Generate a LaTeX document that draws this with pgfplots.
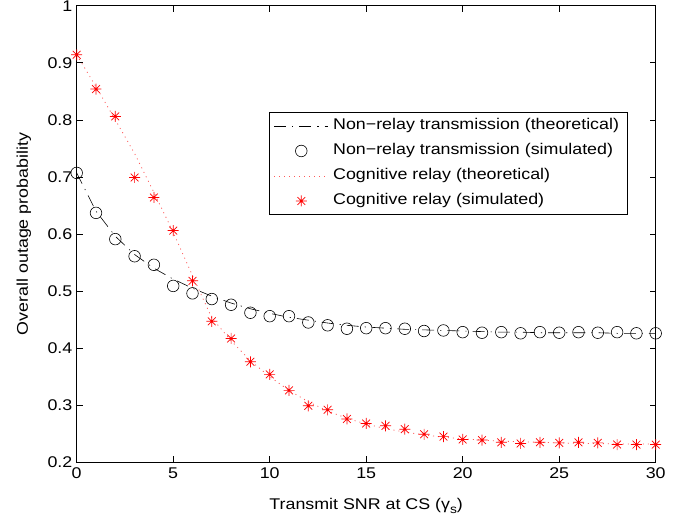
\documentclass[border=0pt]{standalone}
\usepackage{pgfplots}
\pgfplotsset{compat=1.18}
\usepackage{fontspec}
\setmainfont{Liberation Sans}[FakeStretch=1.15]
\usetikzlibrary{calc,plotmarks}
\pgfdeclareplotmark{mstar}{%
  \pgfpathmoveto{\pgfqpoint{0pt}{\pgfplotmarksize}}%
  \pgfpathlineto{\pgfqpoint{0pt}{-\pgfplotmarksize}}%
  \pgfpathmoveto{\pgfqpoint{\pgfplotmarksize}{0pt}}%
  \pgfpathlineto{\pgfqpoint{-\pgfplotmarksize}{0pt}}%
  \pgfpathmoveto{\pgfqpoint{0.707\pgfplotmarksize}{0.707\pgfplotmarksize}}%
  \pgfpathlineto{\pgfqpoint{-0.707\pgfplotmarksize}{-0.707\pgfplotmarksize}}%
  \pgfpathmoveto{\pgfqpoint{0.707\pgfplotmarksize}{-0.707\pgfplotmarksize}}%
  \pgfpathlineto{\pgfqpoint{-0.707\pgfplotmarksize}{0.707\pgfplotmarksize}}%
  \pgfusepathqstroke}
\pgfplotstableread{
x th sim
0 0.707 0.707
1 0.640 0.637
2 0.596 0.591
3 0.564 0.561
4 0.540 0.546
5 0.521 0.509
6 0.505 0.496
7 0.491 0.486
8 0.479 0.476
9 0.469 0.462
10 0.461 0.456
11 0.454 0.456
12 0.449 0.445
13 0.444 0.440
14 0.440 0.434
15 0.437 0.435
16 0.435 0.435
17 0.433 0.434
18 0.432 0.430
19 0.431 0.431
20 0.430 0.428
21 0.429 0.427
22 0.428 0.428
23 0.428 0.426
24 0.427 0.428
25 0.427 0.427
26 0.427 0.428
27 0.427 0.427
28 0.426 0.428
29 0.426 0.426
30 0.426 0.426
}\nonrelay
\pgfplotstableread{
x th sim
0 0.914 0.914
1 0.858 0.854
2 0.800 0.806
3 0.741 0.699
4 0.673 0.664
5 0.603 0.606
6 0.527 0.518
7 0.453 0.447
8 0.413 0.417
9 0.378 0.376
10 0.350 0.354
11 0.326 0.326
12 0.306 0.299
13 0.290 0.292
14 0.277 0.276
15 0.267 0.268
16 0.259 0.264
17 0.253 0.258
18 0.248 0.249
19 0.244 0.245
20 0.241 0.240
21 0.239 0.239
22 0.237 0.235
23 0.236 0.233
24 0.235 0.235
25 0.234 0.234
26 0.233 0.235
27 0.233 0.234
28 0.232 0.231
29 0.232 0.231
30 0.232 0.231
}\relay
\begin{document}
\fontsize{15.5}{18}\selectfont
\begin{tikzpicture}
\begin{axis}[
  scale only axis, width=579pt, height=456.6pt,
  xmin=0, xmax=30, ymin=0.2, ymax=1,
  xtick={0,5,10,15,20,25,30},
  ytick={0.2,0.3,0.4,0.5,0.6,0.7,0.8,0.9,1},
  tick align=inside, major tick length=6pt,
  tick style={black, line width=0.6pt},
  axis line style={line width=0.9pt},
  /pgf/number format/assume math mode=true,
  ticklabel style={font=\fontsize{15.5}{18}\selectfont},
  yticklabel style={xshift=1pt},
  label style={font=\fontsize{15.5}{18}\selectfont},
  xlabel={Transmit SNR at CS (γ\raisebox{-0.45ex}{\fontsize{12}{14}\selectfont s})},
  xlabel style={yshift=-9pt},
  ylabel={Overall outage probability},
  ylabel style={yshift=6pt},
  legend style={at={(0.952,0.767)}, anchor=north east, draw=black, line width=0.8pt,
    inner xsep=4pt, inner ysep=1pt,
    font=\fontsize{15.5}{18}\selectfont, cells={anchor=west},
    nodes={text height=11pt, text depth=3pt, inner ysep=5.5pt, inner xsep=4.5pt}},
  legend image code/.code={\draw[mark repeat=2,mark phase=2,#1] plot coordinates {(0pt,0pt) (27pt,0pt) (54pt,0pt)};},
]
\addplot[black, line width=0.6pt, dash pattern=on 12pt off 6pt on 1.2pt off 6pt] table[x=x,y=th] {\nonrelay};
\addlegendentry{Non−relay transmission (theoretical)}
\addplot[black, only marks, mark=o, mark size=5.8pt, mark options={line width=0.6pt}] table[x=x,y=sim] {\nonrelay};
\addlegendentry{Non−relay transmission (simulated)}
\addplot[red!65, line width=0.8pt, dash pattern=on 1pt off 4pt] table[x=x,y=th] {\relay};
\addlegendentry{Cognitive relay (theoretical)}
\addplot[red, only marks, mark=mstar, mark size=5.5pt, mark options={line width=0.7pt}] table[x=x,y=sim] {\relay};
\addlegendentry{Cognitive relay (simulated)}
\end{axis}
\pgfresetboundingbox
\path[use as bounding box] ($(current axis.south west)+(-76.7pt,-59.7pt)$) rectangle ($(current axis.north east)+(37.3pt,5.7pt)$);
\end{tikzpicture}
\end{document}
